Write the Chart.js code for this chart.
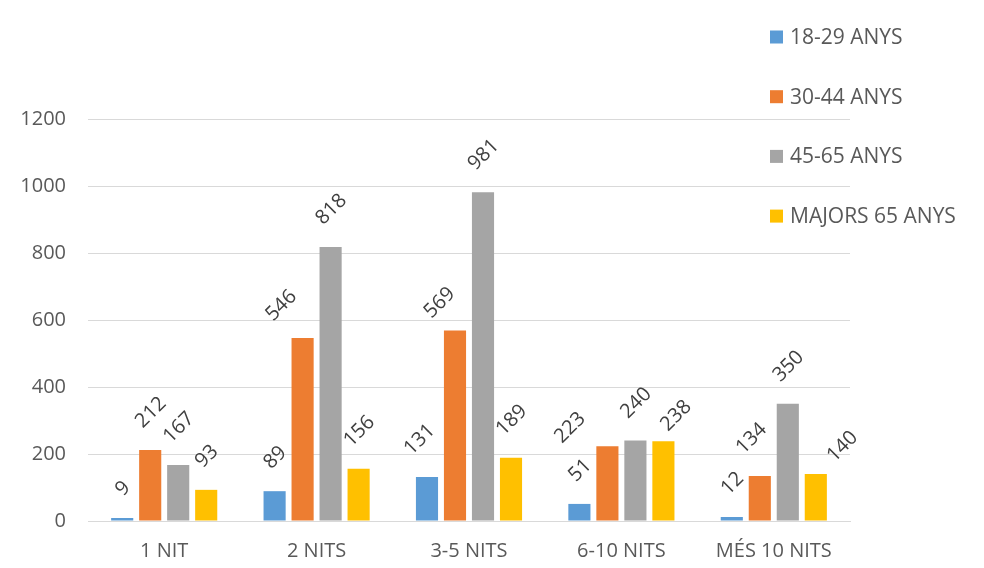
<!DOCTYPE html>
<html>
<head>
<meta charset="utf-8">
<script src="https://cdn.jsdelivr.net/npm/chart.js@4"></script>
<style>
html,body{margin:0;padding:0;background:#fff;}
#wrap{width:984px;height:568px;position:relative;}
</style>
</head>
<body>
<div id="wrap"><canvas id="c" width="984" height="568"></canvas></div>
<script>
const categories = ["1 NIT", "2 NITS", "3-5 NITS", "6-10 NITS", "MÉS 10 NITS"];
const seriesNames = ["18-29 ANYS", "30-44 ANYS", "45-65 ANYS", "MAJORS 65 ANYS"];
const s1829 = [9, 89, 131, 51, 12];
const s3044 = [212, 546, 569, 223, 134];
const s4565 = [167, 818, 981, 240, 350];
const sMaj65 = [93, 156, 189, 238, 140];
const yTicks = [0, 200, 400, 600, 800, 1000, 1200];

// manual nudges of individual data labels (as placed in the original), [dx, dy] per category
const labelNudges = [
  [[0,0],[0,0],[-8,0],[0,0],[0,0]],
  [[0,0],[-22,5],[-16,10],[-38,19],[-9,0]],
  [[0,0],[0,0],[0,0],[0,0],[0,0]],
  [[0,0],[0,0],[0,0],[12,12],[26,10]]
];

const colors = ["#5B9BD5", "#ED7D31", "#A5A5A5", "#FFC000"];
const seriesValues = [s1829, s3044, s4565, sMaj65];
const FONT = "'Open Sans', sans-serif";
const TXT = "#595959";

const labelPlugin = {
  id: 'rotLabels',
  afterDatasetsDraw(chart) {
    const ctx = chart.ctx;
    ctx.save();
    const fs = 20;
    ctx.font = fs + "px " + FONT;
    ctx.fillStyle = "#404040";
    ctx.textAlign = "center";
    ctx.textBaseline = "middle";
    chart.data.datasets.forEach((ds, di) => {
      const meta = chart.getDatasetMeta(di);
      meta.data.forEach((el, i) => {
        const p = el.getProps(['x', 'y'], true);
        const t = String(ds.data[i]);
        const w = ctx.measureText(t).width;
        const h = fs * 0.72;
        const half = (w + h) * 0.7071 / 2;
        const nd = labelNudges[di][i];
        const cy = p.y - 21 - half + nd[1];
        ctx.save();
        ctx.translate(p.x + nd[0], cy);
        ctx.rotate(-Math.PI / 4);
        ctx.fillText(t, 0, 1);
        ctx.restore();
      });
    });
    ctx.restore();
  }
};

const legendPlugin = {
  id: 'sideLegend',
  afterDraw(chart) {
    const ctx = chart.ctx;
    ctx.save();
    ctx.font = "21px " + FONT;
    ctx.textAlign = "left";
    ctx.textBaseline = "middle";
    chart.data.datasets.forEach((ds, i) => {
      const cy = 37 + i * 59.7;
      ctx.fillStyle = ds.backgroundColor;
      ctx.fillRect(770, cy - 6.5, 13, 13);
      ctx.fillStyle = TXT;
      ctx.fillText(ds.label, 790, cy + 1);
    });
    ctx.restore();
  }
};

new Chart(document.getElementById('c'), {
  type: 'bar',
  data: {
    labels: categories,
    datasets: seriesNames.map((n, i) => ({
      label: n,
      data: seriesValues[i],
      backgroundColor: colors[i],
      borderWidth: 0,
      barPercentage: 0.79,
      categoryPercentage: 0.735
    }))
  },
  options: {
    responsive: false,
    animation: false,
    devicePixelRatio: 1,
    layout: { padding: { top: 119, right: 134, left: 0, bottom: 0 } },
    plugins: { legend: { display: false }, tooltip: { enabled: false } },
    scales: {
      x: {
        grid: { display: false, drawTicks: false },
        border: { display: true, color: "#D9D9D9", width: 1 },
        ticks: { color: TXT, font: { family: FONT, size: 20 }, padding: 18, maxRotation: 0 },
        afterFit(s) { s.height = 47; }
      },
      y: {
        min: 0, max: 1200,
        afterBuildTicks(s) { s.ticks = yTicks.map(v => ({ value: v })); },
        grid: { color: "#D9D9D9", lineWidth: 1, drawTicks: false },
        border: { display: false },
        ticks: { color: TXT, font: { family: FONT, size: 20 }, padding: 22, callback: v => String(v) },
        afterFit(s) { s.width = 88; }
      }
    }
  },
  plugins: [labelPlugin, legendPlugin]
});
</script>
</body>
</html>
